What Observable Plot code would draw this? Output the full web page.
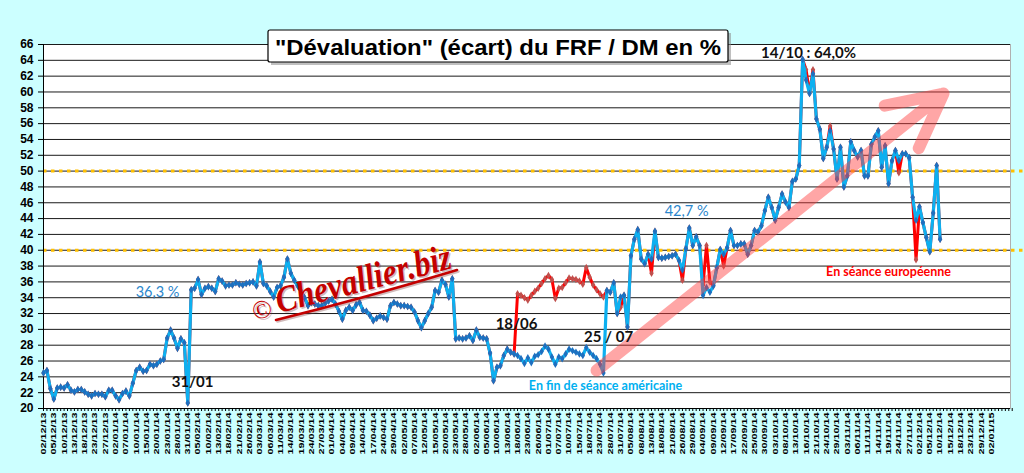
<!DOCTYPE html>
<html><head><meta charset="utf-8">
<script src="https://cdn.jsdelivr.net/npm/d3@7"></script>
<script src="https://cdn.jsdelivr.net/npm/@observablehq/plot@0.6"></script>
<style>
html,body{margin:0;padding:0;background:#ccffff;}
#chart{width:1024px;height:473px;overflow:hidden;}
</style></head><body><div id="chart"></div>
<script>
// Category labels (every 3rd trading day)
const tickLabels = ["02/12/13","05/12/13","10/12/13","13/12/13","18/12/13","23/12/13","27/12/13","02/01/14","07/01/14","10/01/14","15/01/14","20/01/14","23/01/14","28/01/14","31/01/14","05/02/14","10/02/14","13/02/14","18/02/14","21/02/14","26/02/14","03/03/14","06/03/14","11/03/14","14/03/14","19/03/14","24/03/14","27/03/14","01/04/14","04/04/14","09/04/14","14/04/14","17/04/14","24/04/14","29/04/14","02/05/14","07/05/14","12/05/14","15/05/14","20/05/14","23/05/14","28/05/14","02/06/14","05/06/14","10/06/14","13/06/14","18/06/14","23/06/14","26/06/14","01/07/14","07/07/14","10/07/14","15/07/14","18/07/14","23/07/14","28/07/14","31/07/14","05/08/14","08/08/14","13/08/14","18/08/14","21/08/14","26/08/14","29/08/14","04/09/14","09/09/14","12/09/14","17/09/14","22/09/14","25/09/14","30/09/14","03/10/14","08/10/14","13/10/14","16/10/14","21/10/14","24/10/14","29/10/14","03/11/14","06/11/14","11/11/14","14/11/14","19/11/14","24/11/14","27/11/14","02/12/14","05/12/14","10/12/14","15/12/14","18/12/14","23/12/14","29/12/14","02/01/15"];

// "En fin de séance américaine" (blue), one value per trading day
const usClose = [
24.5,24.8,22.5,21.2,22.6,22.7,22.6,23.0,22.3,22.1,
22.4,22.4,22.1,21.8,21.6,21.9,21.8,21.8,21.5,22.3,
22.3,21.6,21.1,21.9,22.2,21.6,23.2,24.8,25.2,24.7,
24.8,25.6,25.4,25.6,26.0,26.2,28.9,29.9,28.9,27.6,
28.8,28.3,20.7,35.0,35.2,36.3,34.4,35.2,35.4,35.2,
34.8,36.4,36.1,35.5,35.6,35.6,35.9,35.7,35.6,35.8,
35.9,36.0,35.5,38.5,35.8,35.5,34.8,34.1,35.3,35.5,
36.6,38.9,37.1,36.2,35.5,34.8,34.0,33.0,33.4,33.2,
33.0,33.0,33.3,33.6,33.8,33.2,32.3,31.3,32.4,32.8,
32.4,33.1,33.4,32.4,32.3,31.8,31.1,31.4,31.7,31.5,
31.3,33.0,33.4,33.2,33.0,33.0,32.9,32.8,32.2,31.1,
30.2,31.1,32.0,32.8,34.9,34.7,36.2,35.7,34.1,36.4,
28.8,28.9,28.8,28.9,29.2,28.6,29.9,29.0,28.9,28.8,
27.0,23.5,25.2,25.4,26.7,27.5,27.1,26.9,26.7,26.3,
25.7,26.4,25.8,26.6,26.8,27.2,27.9,27.5,26.5,25.6,
26.5,26.3,26.9,27.5,27.3,27.1,26.9,26.7,27.7,27.1,
26.7,26.3,25.6,24.5,34.9,34.7,35.9,32.0,34.1,34.3,
30.3,39.3,41.4,42.6,38.9,38.3,39.5,38.9,42.4,39.1,
39.0,39.1,39.2,39.3,39.5,38.7,37.5,40.2,42.8,40.6,
41.7,40.6,34.3,35.3,34.7,35.5,37.8,40.1,39.5,40.3,
42.5,40.6,40.6,40.8,40.8,39.5,40.6,42.5,42.3,43.1,
45.0,46.7,45.4,43.8,45.4,47.1,46.1,45.4,48.7,49.0,
50.7,64.1,61.5,59.8,62.3,56.6,55.3,51.6,53.0,55.1,
52.8,49.0,53.0,48.0,49.4,53.7,52.6,51.8,52.6,49.4,
49.4,53.4,54.3,55.1,50.5,53.2,48.4,51.3,52.6,51.3,
52.2,52.2,51.7,46.7,43.8,45.5,43.5,41.6,39.8,44.7,
50.7,41.4];

// "En séance européenne" (red): days where it differs from the US close [day index, value]
const euroSession = [[138,34.5],[139,34.3],[140,34.0],[141,33.7],[142,34.3],[143,34.8],[144,35.2],[145,35.8],[146,36.4],[147,36.8],[148,36.3],[149,33.9],[150,35.2],[151,35.3],[152,35.9],[153,36.5],[154,36.4],[155,36.3],[156,36.1],[157,35.7],[158,37.8],[159,36.6],[160,35.6],[161,35.0],[162,34.5],[163,34.1],[168,32.8],[177,37.1],[186,36.2],[192,35.6],[193,40.6],[194,36.0],[198,38.0],[222,62.8],[224,62.8],[229,55.7],[249,49.8],[254,38.8]];

const yTicks = d3.range(20, 67, 2);
const refLevels = [40, 50];

// Annotations [day index, value, text]
const blueNotes = [[33.2, 34.7, "36,3 %"], [187.2, 44.9, "42,7 %"]];
const blackNotes = [[43.4, 23.3, "31/01"], [137.7, 30.7, "18/06"], [164.5, 29.0, "25 / 07"], [222.7, 64.9, "14/10 : 64,0%"]];
const seriesNotes = [[163.6, 22.8, "En fin de séance américaine", "#00b0f0"], [246, 37.2, "En séance européenne", "#ff0000"]];
const trendArrow = [{x1: 161, y1: 24.8, x2: 262, y2: 59.8}];

const blueData = usClose.map((v, i) => ({i, v}));
const euroMap = new Map(euroSession);
const redData = usClose.map((v, i) => ({i, v: euroMap.has(i) ? euroMap.get(i) : v}));
const nDays = 282;
const allIdx = d3.range(0, nDays + 1);
const labelIdx = tickLabels.map((_, k) => k * 3);

const font = "Liberation Sans, Arial, sans-serif";
const chart = Plot.plot({
  width: 1024, height: 473,
  marginLeft: 43, marginRight: 14, marginTop: 44, marginBottom: 65,
  x: {domain: [0, 281.5]},
  y: {domain: [20, 66]},
  style: {background: "#ccffff", fontFamily: font, overflow: "visible", color: "#000"},
  marks: [
    Plot.frame({fill: "white", stroke: "#b0b0b0"}),
    Plot.gridY({ticks: yTicks, stroke: "#1a1a1a", strokeOpacity: 1}),
    Plot.ruleY(refLevels, {x1: 0, x2: 286, stroke: "#ffc000", strokeWidth: 3, strokeDasharray: "3.5,4.5"}),
    Plot.axisY({ticks: yTicks, tickSize: 5, tickPadding: 5, fontSize: 12, fontWeight: "bold", label: null}),
    Plot.axisX({ticks: allIdx, tickSize: 3, tickFormat: () => "", label: null}),
    Plot.axisX({ticks: labelIdx, tickSize: 0, tickPadding: 4, tickRotate: -90, fontSize: 7.5, fontWeight: "bold",
      tickFormat: d => tickLabels[Math.round(d / 3)], label: null}),
    Plot.ruleX([0], {stroke: "#000"}),
    Plot.ruleY([20], {stroke: "#000"}),
    Plot.line(redData, {x: "i", y: "v", stroke: "#ff0000", strokeWidth: 3}),
    Plot.dot(redData, {x: "i", y: "v", symbol: "diamond", r: 2.3, fill: "#c0504d", stroke: "none"}),
    Plot.line(blueData, {x: "i", y: "v", stroke: "#0db0f0", strokeWidth: 3.2}),
    Plot.dot(blueData, {x: "i", y: "v", symbol: "diamond", r: 2.3, fill: "#1f6fbf", stroke: "none"}),
    Plot.arrow(trendArrow, {x1: "x1", y1: "y1", x2: "x2", y2: "y2", stroke: "#ff3a3a", strokeOpacity: 0.45,
      strokeWidth: 12, headLength: 7.5, headAngle: 54, strokeLinecap: "round", strokeLinejoin: "round"}),
    Plot.text(blueNotes, {x: d => d[0], y: d => d[1], text: d => d[2], fill: "#2a86cc", fontSize: 14.5, fontFamily: "Lato"}),
    Plot.text(blackNotes, {x: d => d[0], y: d => d[1], text: d => d[2], fill: "#111", fontSize: 15, fontWeight: "bold", fontFamily: "Lato"}),
    Plot.text(seriesNotes, {x: d => d[0], y: d => d[1], text: d => d[2], fill: d => d[3], fontSize: 12.5, fontWeight: "bold", fontFamily: "Lato"})
  ]
});
document.getElementById("chart").appendChild(chart);

const svg = d3.select(chart);
// condensed rotated date labels
svg.selectAll('g[aria-label="x-axis tick label"] text').each(function() {
  const t = d3.select(this);
  if (t.text()) t.attr("textLength", 42).attr("lengthAdjust", "spacingAndGlyphs");
});

// watermark
const wm = svg.append("g").attr("pointer-events", "none").attr("text-anchor", "start");
const drawMark = (g, color, dx, dy) => {
  g.append("text").attr("transform", `translate(${262 + dx},${309 + dy}) rotate(-14)`)
    .attr("text-anchor", "middle").attr("dy", "0.35em")
    .attr("font-family", "Liberation Serif, serif").attr("font-size", 26).attr("fill", color).text("©");
  g.append("text").attr("transform", `translate(${279 + dx},${313 + dy}) rotate(-14.5)`)
    .attr("text-anchor", "start")
    .attr("font-family", "Liberation Serif, serif").attr("font-style", "italic").attr("font-weight", "bold")
    .attr("font-size", 37).attr("fill", color).attr("textLength", 180).attr("lengthAdjust", "spacingAndGlyphs")
    .text("Chevallier.biz");
  g.append("path").attr("d", `M${276 + dx},${320 + dy} Q${365 + dx},${298 + dy} ${457 + dx},${270 + dy}`)
    .attr("fill", "none").attr("stroke", color).attr("stroke-width", 2.6).attr("stroke-linecap", "round");
};
drawMark(wm, "rgba(120,60,60,0.35)", 1.5, 1.5);
drawMark(wm, "#c40000", 0, 0);

// title box
const tg = svg.append("g");
tg.append("rect").attr("x", 271).attr("y", 33).attr("width", 460).attr("height", 32).attr("fill", "#8a8a8a").attr("opacity", 0.55);
tg.append("rect").attr("x", 268).attr("y", 30).attr("width", 460).attr("height", 32).attr("fill", "#fff")
  .attr("stroke", "#000").attr("stroke-width", 1.2).attr("rx", 2);
tg.append("text").attr("x", 498).attr("y", 54.5).attr("text-anchor", "middle").attr("font-family", font)
  .attr("font-size", 22).attr("font-weight", "bold").attr("fill", "#000")
  .attr("textLength", 446).attr("lengthAdjust", "spacingAndGlyphs")
  .text('"Dévaluation" (écart) du FRF / DM en %');
</script>
</body></html>
